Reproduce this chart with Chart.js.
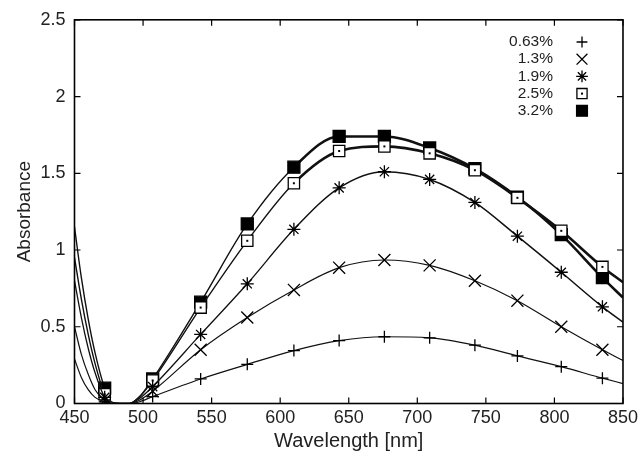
<!DOCTYPE html>
<html>
<head>
<meta charset="utf-8">
<script src="https://cdn.jsdelivr.net/npm/chart.js@4.4.1/dist/chart.umd.min.js"></script>
<style>
  html, body { margin: 0; padding: 0; background: #fff; }
  #wrap { width: 642px; height: 460px; }
</style>
</head>
<body>
<div id="wrap"><canvas id="absChart"></canvas></div>
<script>
// Длины волн (нм) — общие для всех кривых
const wavelengths = [450, 455, 460, 465, 472, 477, 484, 490, 497, 507, 542, 576, 610, 643, 676, 709, 742, 773, 805, 835, 850];
// Точки, где стоят маркеры
const markerWavelengths = [472, 507, 542, 576, 610, 643, 676, 709, 742, 773, 805, 835];

const seriesLabels = ['0.63%', '1.3%', '1.9%', '2.5%', '3.2%'];
const abs063 = [0.29, 0.17, 0.09, 0.04, 0.01, 0, 0, 0, 0.01, 0.045, 0.16, 0.255, 0.345, 0.41, 0.435, 0.428, 0.38, 0.31, 0.24, 0.165, 0.13];
const abs13  = [0.50, 0.32, 0.19, 0.09, 0.02, 0, 0, 0, 0.02, 0.08, 0.35, 0.56, 0.74, 0.885, 0.935, 0.90, 0.80, 0.67, 0.50, 0.35, 0.28];
const abs19  = [0.80, 0.56, 0.36, 0.20, 0.04, 0, 0, 0, 0.03, 0.11, 0.45, 0.78, 1.135, 1.405, 1.51, 1.46, 1.31, 1.09, 0.855, 0.63, 0.53];
const abs25  = [0.95, 0.68, 0.45, 0.26, 0.06, 0, 0, 0, 0.04, 0.15, 0.625, 1.06, 1.435, 1.645, 1.675, 1.63, 1.52, 1.34, 1.125, 0.89, 0.79];
const abs32  = [1.15, 0.82, 0.55, 0.33, 0.10, 0.01, 0, 0, 0.04, 0.16, 0.66, 1.17, 1.54, 1.74, 1.74, 1.665, 1.53, 1.345, 1.10, 0.82, 0.69];

const xTicks = [450, 500, 550, 600, 650, 700, 750, 800, 850];
const yTicks = [0, 0.5, 1, 1.5, 2, 2.5];

const FONT = 'Liberation Sans, Arial, Helvetica, sans-serif';

// Стиль маркеров для каждой серии
const markerStyles = [
    { style: 'cross',    radius: 6,   fill: 'transparent' },
    { style: 'crossRot', radius: 8.5, fill: 'transparent' },
    { style: 'star',     radius: 6.5, fill: 'transparent' },
    { style: 'rect',     radius: 8,   fill: '#ffffff', dot: true },
    { style: 'rect',     radius: 8.5, fill: '#000000' }
];
const lineWidths = [1.2, 1.2, 1.3, 1.4, 1.4];
// шумные участки у концентрированных растворов — толще линия
const noisyWidths = [1.2, 1.2, 1.5, 2.6, 2.6];
const allValues = [abs063, abs13, abs19, abs25, abs32];

function buildDataset(i) {
    const m = markerStyles[i];
    return {
        label: seriesLabels[i],
        data: wavelengths.map((w, k) => ({ x: w, y: allValues[i][k] })),
        borderColor: '#111',
        borderWidth: lineWidths[i],
        segment: {
            borderWidth: c => c.p0.parsed.x >= 610 ? noisyWidths[i] : lineWidths[i]
        },
        cubicInterpolationMode: 'monotone',
        pointStyle: m.style,
        pointRadius: wavelengths.map(w => markerWavelengths.includes(w) ? m.radius : 0),
        pointBorderColor: '#000',
        pointBorderWidth: 1.3,
        pointBackgroundColor: m.fill,
        fill: false
    };
}

// Рамка с внутренними засечками на всех четырёх сторонах
const frameTicks = {
    id: 'frameTicks',
    afterDatasetsDraw(chart) {
        const { ctx, chartArea: a, scales: { x, y } } = chart;
        ctx.save();
        ctx.strokeStyle = '#000';
        ctx.lineWidth = 1.2;
        ctx.beginPath();
        xTicks.forEach(v => {
            const px = x.getPixelForValue(v);
            ctx.moveTo(px, a.bottom); ctx.lineTo(px, a.bottom - 6);
            ctx.moveTo(px, a.top); ctx.lineTo(px, a.top + 6);
        });
        yTicks.forEach(v => {
            const py = y.getPixelForValue(v);
            ctx.moveTo(a.left, py); ctx.lineTo(a.left + 6, py);
            ctx.moveTo(a.right, py); ctx.lineTo(a.right - 6, py);
        });
        ctx.stroke();
        ctx.lineWidth = 1.6;
        ctx.strokeRect(a.left, a.top, a.right - a.left, a.bottom - a.top);
        ctx.restore();
    }
};

// Точка в центре открытого квадрата + легенда справа вверху
const customLegend = {
    id: 'customLegend',
    afterDatasetsDraw(chart) {
        const ctx = chart.ctx;
        ctx.save();
        // точки внутри открытых квадратов
        chart.data.datasets.forEach((ds, i) => {
            if (!markerStyles[i].dot) return;
            chart.getDatasetMeta(i).data.forEach(el => {
                if (el.options.radius > 0) {
                    ctx.fillStyle = '#000';
                    ctx.fillRect(el.x - 1, el.y - 1, 2, 2);
                }
            });
        });

        ctx.font = '15.5px ' + FONT;
        ctx.textAlign = 'right';
        ctx.textBaseline = 'middle';
        const textRight = 553;
        const markX = 582;
        const startY = 42;
        const step = 17.2;
        seriesLabels.forEach((lbl, i) => {
            const yy = startY + i * step;
            ctx.fillStyle = '#222';
            ctx.fillText(lbl, textRight, yy);
            const m = markerStyles[i];
            ctx.strokeStyle = '#000';
            ctx.fillStyle = m.fill;
            ctx.lineWidth = 1.3;
            Chart.helpers.drawPoint(ctx, { pointStyle: m.style, radius: m.radius * 0.9, rotation: 0, borderWidth: 1.3 }, markX, yy);
            if (m.dot) {
                ctx.fillStyle = '#000';
                ctx.fillRect(markX - 1, yy - 1, 2, 2);
            }
        });
        ctx.restore();
    }
};

const chart = new Chart(document.getElementById('absChart').getContext('2d'), {
    type: 'line',
    data: {
        datasets: [0, 1, 2, 3, 4].map(buildDataset)
    },
    options: {
        responsive: true,
        maintainAspectRatio: false,
        animation: false,
        layout: { padding: { top: 19, right: 18.5, left: 0, bottom: 0 } },
        plugins: {
            legend: { display: false },
            tooltip: { enabled: false }
        },
        scales: {
            x: {
                type: 'linear',
                min: 450,
                max: 850,
                afterFit: s => { s.height = 56.5; },
                afterBuildTicks: s => { s.ticks = xTicks.map(v => ({ value: v })); },
                grid: { display: false, drawTicks: false },
                border: { display: false },
                ticks: { color: '#222', padding: 4, maxRotation: 0, font: { family: FONT, size: 18 } },
                title: {
                    display: true,
                    text: 'Wavelength [nm]',
                    color: '#222',
                    padding: { top: 0, bottom: 7 },
                    font: { family: FONT, size: 20 }
                }
            },
            y: {
                type: 'linear',
                min: 0,
                max: 2.5,
                afterFit: s => { s.width = 74.5; },
                afterBuildTicks: s => { s.ticks = yTicks.map(v => ({ value: v })); },
                grid: { display: false, drawTicks: false },
                border: { display: false },
                ticks: {
                    color: '#222',
                    padding: 9,
                    font: { family: FONT, size: 18 },
                    callback: v => String(v)
                },
                title: {
                    display: true,
                    text: 'Absorbance',
                    color: '#222',
                    padding: { top: 13, bottom: 0 },
                    font: { family: FONT, size: 19 }
                }
            }
        }
    },
    plugins: [frameTicks, customLegend]
});
</script>
</body>
</html>
